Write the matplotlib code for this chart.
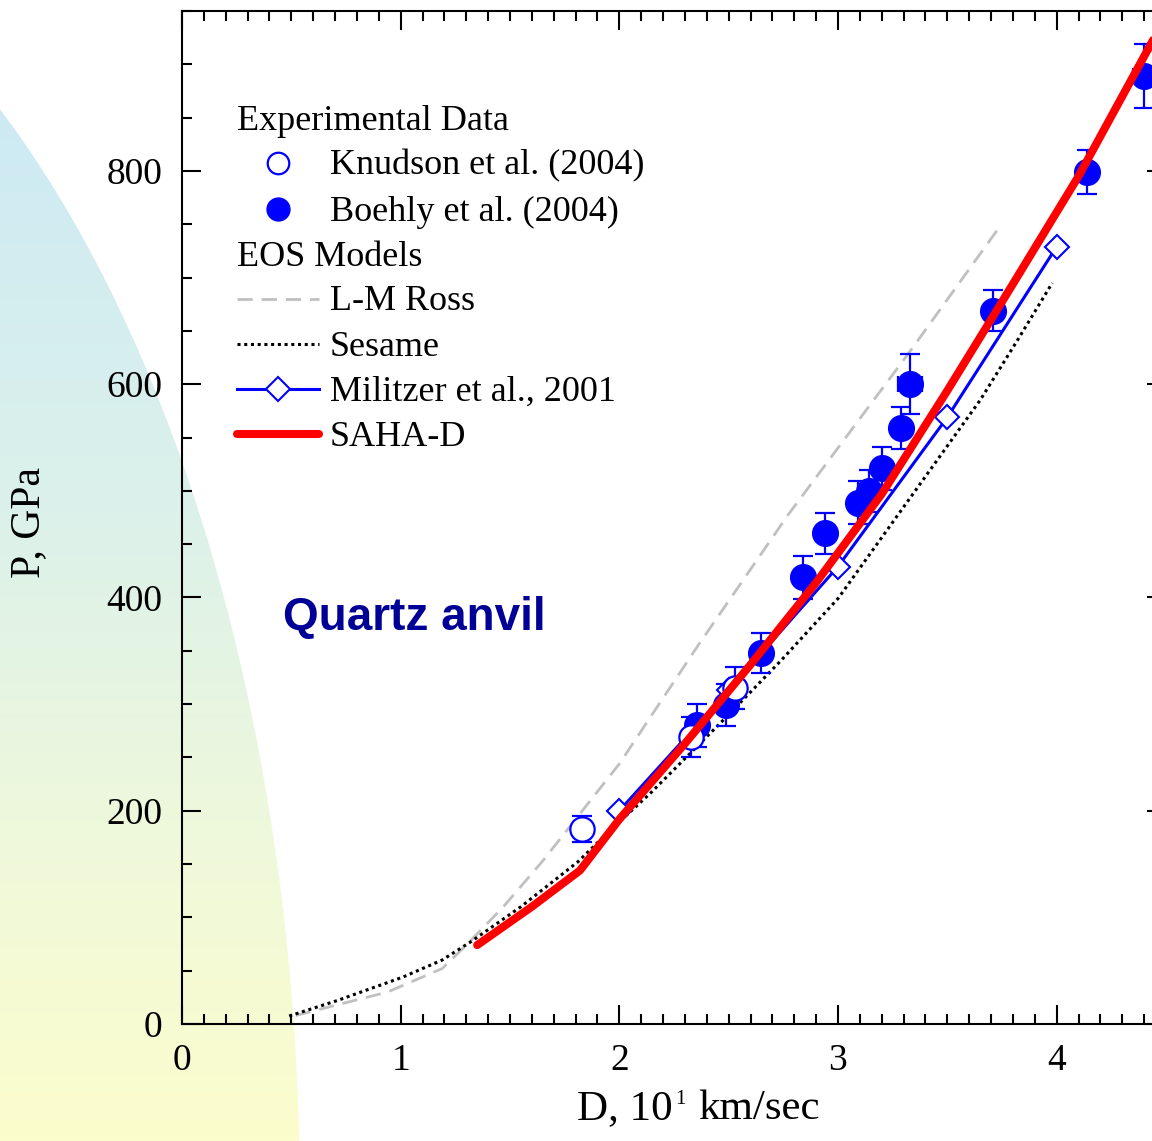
import numpy as np
import matplotlib
matplotlib.use("Agg")
import matplotlib.pyplot as plt
from matplotlib.patches import Ellipse
from matplotlib.colors import LinearSegmentedColormap
from matplotlib.lines import Line2D

plt.rcParams['font.family'] = ['Liberation Serif', 'DejaVu Serif']

# experimental data: Knudson et al. (2004), open circles
knudson_d = [1.83, 2.33, 2.53]
knudson_p = [183, 269, 315]
knudson_err = [12, 19, 20]

# Boehly et al. (2004), filled circles
boehly_d = [2.356, 2.49, 2.65, 2.84, 2.94, 3.09, 3.14, 3.20, 3.29, 3.33, 3.71, 4.14, 4.40]
boehly_p = [280, 299, 348, 419, 460, 489, 500, 521, 559, 600, 669, 799, 889]
boehly_err = [20, 20, 19, 20, 19, 20, 20, 20, 20, 28, 19, 21, 30]
boehly_xd = [3.33, 4.40]
boehly_xp = [600, 889]
boehly_xerr = [0.055, 0.05]

# EOS models
ross_d = [0.52, 0.94, 1.19, 1.30, 1.47, 1.65, 2.0, 2.36, 2.77, 3.33, 3.73]
ross_p = [8, 30, 52, 74, 110, 153, 244, 355, 477, 631, 745]

sesame_d = [0.49, 0.71, 1.01, 1.19, 1.32, 1.55, 1.81, 1.97, 2.14, 2.49, 2.74, 3.0, 3.65, 3.82, 3.98]
sesame_p = [7.5, 22, 44, 60, 77, 110, 152, 184, 216, 288, 341, 399, 585, 641, 695]

militzer_d = [2.0, 2.5, 3.0, 3.5, 4.0]
militzer_p = [200, 313, 429, 569, 729]

saha_d = [1.35, 1.6, 1.82, 2.0, 2.3, 2.6, 2.9, 3.2, 3.5, 3.8, 4.1, 4.5]
saha_p = [74, 110, 144, 192, 263, 337, 414, 497, 594, 694, 795, 945]

W, H = 1152, 1141
fig = plt.figure(figsize=(W / 100, H / 100), dpi=100)

# background gradient blob
bg = fig.add_axes([0, 0, 1, 1], zorder=0)
bg.set_xlim(0, W)
bg.set_ylim(H, 0)
bg.axis('off')
cmap = LinearSegmentedColormap.from_list(
    'bg', [(0, '#c9e8f7'), (0.45, '#dcf1ea'), (0.72, '#eef8dc'), (1, '#fcfdcc')])
grad = np.linspace(0, 1, 256).reshape(-1, 1)
im = bg.imshow(grad, cmap=cmap, extent=(0, W, H, 0), aspect='auto')
blob = Ellipse((-400, 1200), 1400, 2658, transform=bg.transData, facecolor='none', edgecolor='none')
bg.add_patch(blob)
im.set_clip_path(blob)

# main axes
x0, x1, y0, y1 = 182, 1166, 11, 1024
ax = fig.add_axes([x0 / W, (H - y1) / H, (x1 - x0) / W, (y1 - y0) / H], zorder=1)
ax.patch.set_alpha(0)
ax.set_xlim(0, 4.5)
ax.set_ylim(0, 950)

ross_style = dict(color='#c0c0c0', lw=2.0, ls=(0, (5.5, 3.2)))
sesame_style = dict(color='black', lw=2.2, ls=(0, (1, 1.2)))

ax.plot(ross_d, ross_p, zorder=2, **ross_style)
ax.plot(sesame_d, sesame_p, zorder=2, **sesame_style)
ax.plot(militzer_d, militzer_p, color='blue', lw=2.2, marker='D', ms=12.5,
        mfc='white', mec='blue', mew=1.5, zorder=3)

ax.errorbar(boehly_d, boehly_p, yerr=boehly_err, fmt='o', ms=18.5, mfc='blue', mec='blue',
            ecolor='blue', elinewidth=1.6, capsize=7, capthick=1.6, zorder=4)
ax.errorbar(boehly_xd, boehly_xp, xerr=boehly_xerr, fmt='none', ecolor='blue',
            elinewidth=1.6, capsize=6, capthick=1.6, zorder=4)
ax.errorbar(knudson_d, knudson_p, yerr=knudson_err, fmt='none', ecolor='blue',
            elinewidth=1.6, capsize=7, capthick=1.6, zorder=4)
ax.plot(knudson_d, knudson_p, 'o', ms=17.5, mfc='white', mec='blue', mew=1.6, zorder=5)

ax.plot(saha_d, saha_p, color='red', lw=5.8, solid_capstyle='round', zorder=6)

# ticks
ax.set_xticks([0, 1, 2, 3, 4])
ax.set_xticks(np.arange(0, 4.51, 0.1), minor=True)
ax.set_yticks([0, 200, 400, 600, 800])
ax.set_yticks(np.arange(0, 951, 50), minor=True)
ax.tick_params(which='both', direction='in', top=True, right=True, width=1.5, colors='black')
ax.tick_params(which='major', length=13.5, labelsize=27)
ax.tick_params(which='minor', length=7)
ax.tick_params(axis='y', pad=14)
ax.tick_params(axis='x', pad=14)
for s in ax.spines.values():
    s.set_linewidth(1.5)

# axis labels
fig.text(29 / W, 1 - 522 / H, 'P, GPa', fontsize=30, rotation=90, ha='center', va='center')
renderer = fig.canvas.get_renderer()
t1 = fig.text(577 / W, 1 - 1119 / H, 'D, 10', fontsize=31, ha='left', va='baseline')
e1 = t1.get_window_extent(renderer)
t2 = fig.text((e1.x1 + 3) / W, 1 - 1104 / H, '1', fontsize=15, ha='left', va='baseline')
e2 = t2.get_window_extent(renderer)
fig.text((e2.x1 + 12) / W, 1 - 1119 / H, 'km/sec', fontsize=31, ha='left', va='baseline')


def pa(px, py):
    return (px - x0) / 984, (y1 - py) / 1013


ax.text(*pa(283, 630), 'Quartz anvil', transform=ax.transAxes,
        fontsize=33, fontweight='bold', color='#000096', family='Liberation Sans', va='baseline')

# hand-built legend
rows = [118, 163, 209, 254, 299, 344, 389, 434]
text_x = 330
for py, label in [(rows[0], 'Experimental Data'), (rows[3], 'EOS Models')]:
    ax.text(*pa(237, py + 3), label, transform=ax.transAxes, fontsize=26, va='center')
entries = [
    (rows[1], 'Knudson et al. (2004)', dict(ls='none', marker='o', ms=15.5, mfc='white', mec='blue', mew=1.6)),
    (rows[2], 'Boehly et al. (2004)', dict(ls='none', marker='o', ms=16.5, mfc='blue', mec='blue')),
    (rows[4], 'L-M Ross', ross_style),
    (rows[5], 'Sesame', sesame_style),
    (rows[6], 'Militzer et al., 2001', dict(color='blue', lw=2.2, marker='D', ms=12.5, mfc='white',
                                             mec='blue', mew=1.5, markevery=[1])),
    (rows[7], 'SAHA-D', dict(color='red', lw=5.8, solid_capstyle='round')),
]
for py, label, style in entries:
    if style.get('ls') == 'none':
        xs, ys = [pa(278, py)[0]], [pa(278, py)[1]]
    else:
        xs = [pa(237, py)[0], pa(278, py)[0], pa(319, py)[0]]
        ys = [pa(237, py)[1]] * 3
    ax.add_line(Line2D(xs, ys, transform=ax.transAxes, zorder=7, **style))
    ax.text(*pa(text_x, py + 3), label, transform=ax.transAxes, fontsize=26, va='center')

fig.savefig('out.png', dpi=100, facecolor='white')
